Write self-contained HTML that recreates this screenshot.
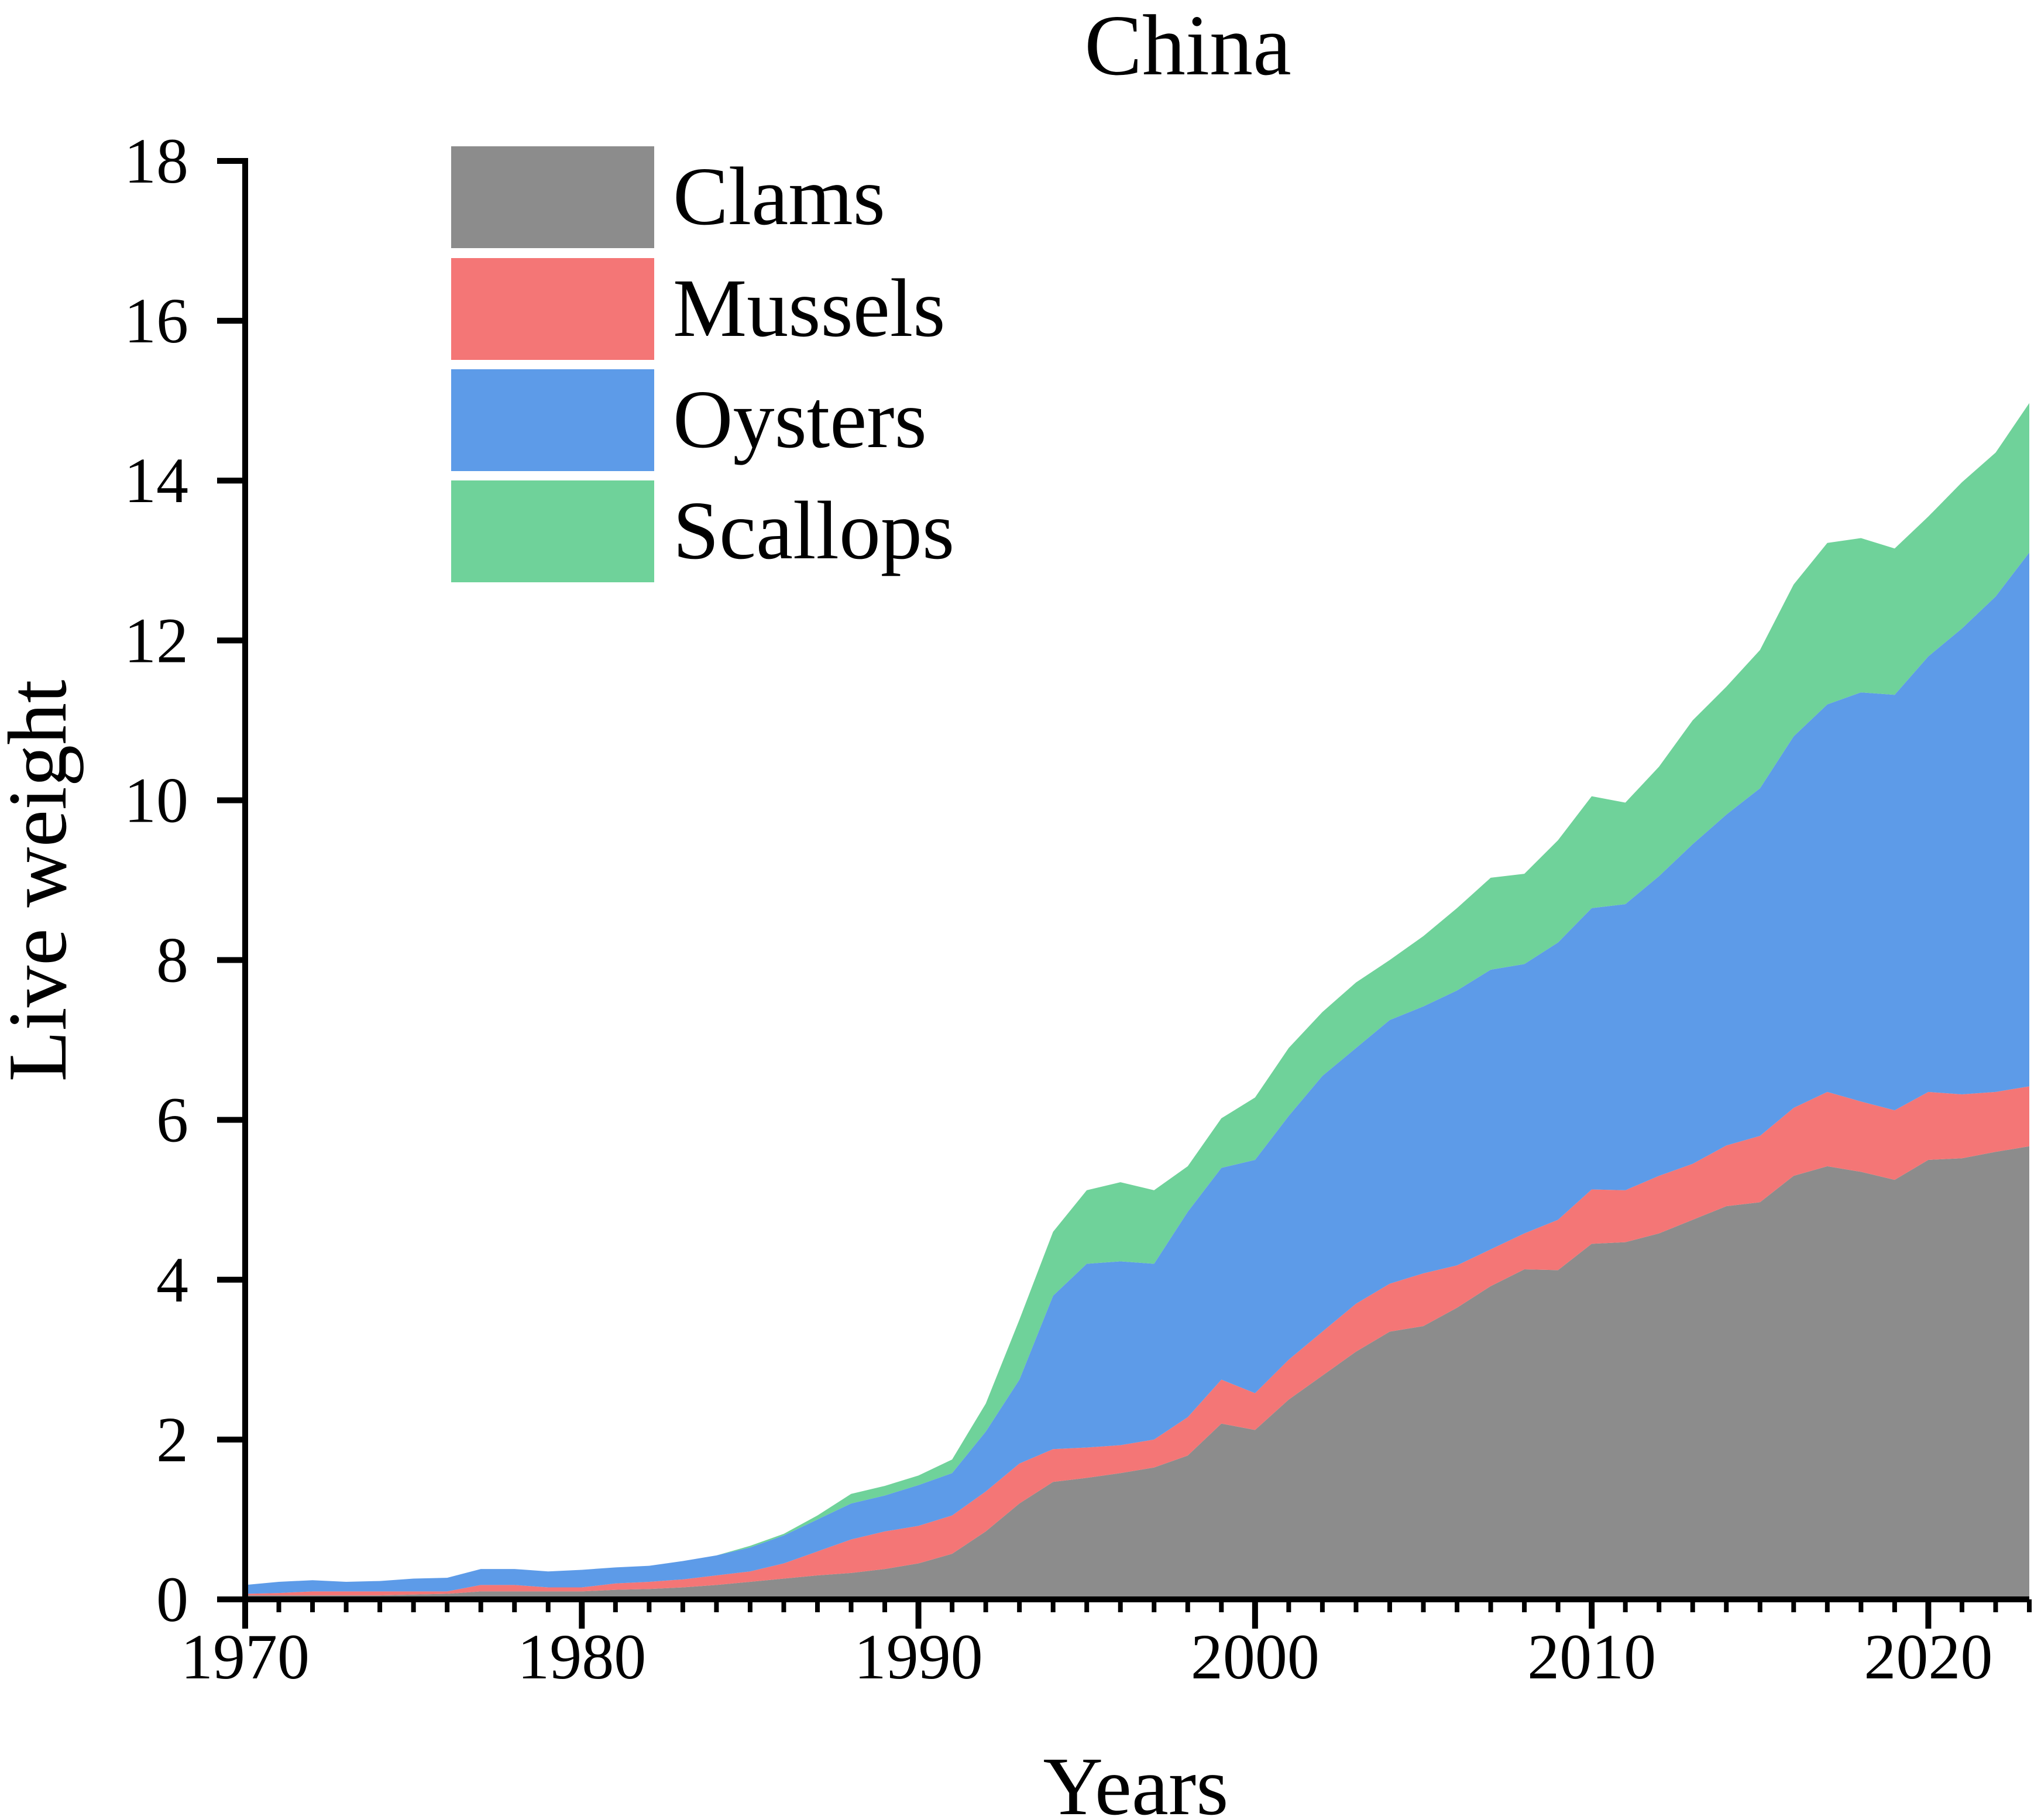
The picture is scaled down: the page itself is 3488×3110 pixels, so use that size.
<!DOCTYPE html>
<html><head><meta charset="utf-8"><style>
html,body{margin:0;padding:0;background:#fff;}
svg{display:block;font-family:"Liberation Serif",serif;}
</style></head><body>
<svg id="chart" width="3488" height="3110" viewBox="0 0 3488 3110" xmlns="http://www.w3.org/2000/svg">
<text x="2030" y="127" font-size="148" text-anchor="middle">China</text>
<g id="areas"></g>
<g id="axes"></g>
<text x="1941" y="3100" font-size="142" text-anchor="middle">Years</text>
<text transform="translate(112,1505) rotate(-90)" font-size="143" text-anchor="middle">Live weight</text>
<g id="legend"></g>
</svg>
<script>
const years = [];
for (let y = 1970; y <= 2023; y++) years.push(y);
const clams = [0.05,0.05,0.05,0.05,0.05,0.06,0.07,0.1,0.1,0.1,0.1,0.12,0.13,0.15,0.18,0.22,0.26,0.3,0.33,0.38,0.45,0.57,0.85,1.2,1.47,1.52,1.58,1.65,1.8,2.2,2.12,2.5,2.8,3.1,3.35,3.42,3.65,3.92,4.13,4.12,4.45,4.47,4.58,4.75,4.92,4.97,5.3,5.42,5.35,5.25,5.5,5.52,5.6,5.67];
const mussels = [0.02,0.03,0.05,0.05,0.05,0.04,0.03,0.08,0.08,0.05,0.05,0.08,0.09,0.10,0.12,0.13,0.19,0.30,0.42,0.47,0.47,0.48,0.50,0.50,0.41,0.38,0.35,0.35,0.48,0.55,0.46,0.50,0.55,0.60,0.60,0.66,0.53,0.46,0.45,0.63,0.68,0.65,0.72,0.70,0.76,0.83,0.85,0.93,0.88,0.87,0.85,0.80,0.75,0.75];
const oysters = [0.11,0.14,0.14,0.12,0.13,0.16,0.17,0.20,0.20,0.20,0.22,0.20,0.20,0.23,0.25,0.30,0.35,0.40,0.45,0.45,0.51,0.53,0.75,1.05,1.92,2.30,2.30,2.20,2.57,2.65,2.92,3.05,3.20,3.20,3.30,3.34,3.44,3.50,3.37,3.47,3.52,3.58,3.75,4.00,4.14,4.35,4.65,4.85,5.12,5.20,5.45,5.83,6.20,6.68];
const scallops = [0,0,0,0,0,0,0,0,0,0,0,0,0,0,0,0.02,0.02,0.05,0.12,0.12,0.12,0.17,0.35,0.75,0.80,0.92,0.99,0.92,0.57,0.62,0.78,0.85,0.80,0.82,0.75,0.88,1.03,1.15,1.13,1.28,1.40,1.27,1.37,1.55,1.60,1.73,1.90,2.02,1.93,1.83,1.75,1.83,1.80,1.87];
const seriesNames = ["Clams","Mussels","Oysters","Scallops"];
const yTicks = [0,2,4,6,8,10,12,14,16,18];
const xTicks = [1970,1980,1990,2000,2010,2020];

const NS = "http://www.w3.org/2000/svg";
const X0 = 419, X1 = 3468, Y0 = 2733, Y18 = 275;
const xs = y => X0 + (y - 1970) * (X1 - X0) / (2023 - 1970);
const ys = v => Y0 - v * (Y0 - Y18) / 18;
const colors = ["#8c8c8c","#f47676","#5d9be8","#6fd29a"];
const series = [clams, mussels, oysters, scallops];
function mk(tag, attrs, parent){const e=document.createElementNS(NS,tag);for(const k in attrs)e.setAttribute(k,attrs[k]);parent.appendChild(e);return e;}

const areas = document.getElementById("areas");
let base = years.map(() => 0);
series.forEach((s, i) => {
  const top = base.map((b, j) => b + s[j]);
  let d = "M" + years.map((y, j) => xs(y) + "," + ys(top[j])).join("L");
  for (let j = years.length - 1; j >= 0; j--) d += "L" + xs(years[j]) + "," + ys(base[j]);
  d += "Z";
  const p = mk("path", {d: d, fill: colors[i]}, areas);
  
  
  base = top;
});

const axes = document.getElementById("axes");
const ya = mk("line", {x1: X0, y1: Y18 - 5, x2: X0, y2: Y0 + 5, stroke: "#000", "stroke-width": 10}, axes);


const xa = mk("line", {x1: X0 - 48, y1: Y0, x2: X1, y2: Y0, stroke: "#000", "stroke-width": 10}, axes);


yTicks.forEach(v => {
  const t = mk("line", {x1: X0 - 48, y1: ys(v), x2: X0, y2: ys(v), stroke: "#000", "stroke-width": 10}, axes);
  
  
  const l = mk("text", {x: 322, y: ys(v) + 37, "font-size": 110, "text-anchor": "end"}, axes);
  l.textContent = v;
  
  
});
years.forEach(y => {
  const major = xTicks.includes(y);
  const t = mk("line", {x1: xs(y), y1: Y0, x2: xs(y), y2: Y0 + (major ? 50 : 22), stroke: "#000", "stroke-width": major ? 10 : 8}, axes);
  
  
});
xTicks.forEach(y => {
  const l = mk("text", {x: xs(y), y: 2868, "font-size": 110, "text-anchor": "middle"}, axes);
  l.textContent = y;
  
  
});

const legend = document.getElementById("legend");
const boxTops = [250, 441, 631, 821];
seriesNames.forEach((n, i) => {
  const r = mk("rect", {x: 771, y: boxTops[i], width: 347, height: 174, fill: colors[i]}, legend);
  
  
  const t = mk("text", {x: 1150, y: boxTops[i] + 133, "font-size": 142}, legend);
  t.textContent = n;
  
  
});
</script>
</body></html>
